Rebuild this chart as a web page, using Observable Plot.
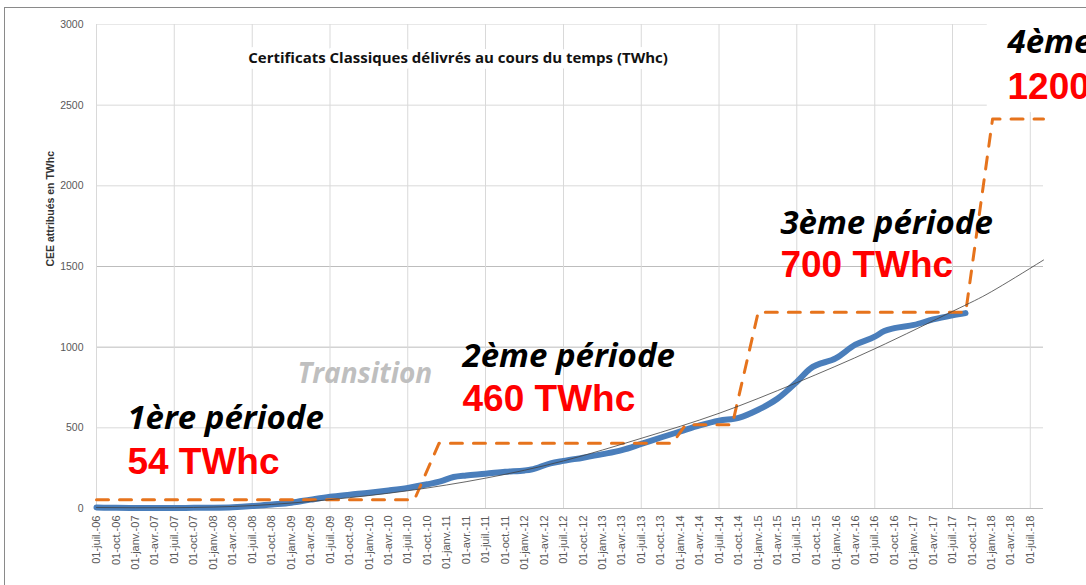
<!DOCTYPE html>
<html><head><meta charset="utf-8">
<script src="https://cdn.jsdelivr.net/npm/d3@7"></script>
<script src="https://cdn.jsdelivr.net/npm/@observablehq/plot@0.6"></script>
<style>
html,body{margin:0;padding:0;background:#fff;overflow:hidden;}
#wrap{position:relative;width:1086px;height:585px;overflow:hidden;}
#wrap svg{position:absolute;left:0;top:0;}
#frame{position:absolute;left:4px;top:7px;width:2000px;height:2000px;border-left:1px solid #8a8a8a;border-top:1px solid #8a8a8a;pointer-events:none;}
</style></head>
<body><div id="wrap"><div id="frame"></div></div>
<script>
// ---- data ----
const deliveredDates = ["2006-07-01","2006-10-01","2007-01-01","2007-04-01","2007-07-01","2007-10-01","2008-01-01","2008-04-01","2008-07-01","2008-10-01","2009-01-01","2009-04-01","2009-07-01","2009-10-01","2010-01-01","2010-04-01","2010-07-01","2010-10-01","2010-12-01","2011-02-01","2011-04-01","2011-07-01","2011-10-01","2012-01-01","2012-02-01","2012-05-01","2012-07-01","2012-10-01","2013-01-01","2013-04-01","2013-07-01","2013-10-01","2014-01-01","2014-04-01","2014-07-01","2014-10-01","2015-01-01","2015-04-01","2015-07-01","2015-09-01","2016-01-01","2016-04-01","2016-07-01","2016-08-15","2016-10-01","2017-01-01","2017-04-01","2017-07-01","2017-08-31"];
const deliveredValues = [6,4,3,3,3,4,5,8,15,25,36,55,73,86,98,112,128,150,168,195,205,215,228,236,242,280,295,315,337,362,400,440,478,515,545,562,612,680,785,866,932,1015,1065,1100,1118,1138,1172,1197,1211];

const objectiveDates = ["2006-07-01","2010-08-01","2010-11-25","2013-11-25","2014-01-25","2014-09-01","2015-01-01","2017-09-01","2018-01-05","2018-09-01"];
const objectiveValues = [54,54,405,405,519,519,1217,1217,2415,2415];

const trendDates = ["2006-07-01","2007-07-01","2008-07-01","2009-07-01","2010-07-01","2011-07-01","2012-07-01","2013-07-01","2014-07-01","2015-07-01","2016-07-01","2017-07-01","2018-01-01","2018-09-01"];
const trendValues = [6,5,18,55,110,188,295,435,590,780,990,1222,1345,1540];

const yTicks = [0,500,1000,1500,2000,2500,3000];
const monthNames = {0:"janv.",3:"avr.",6:"juil.",9:"oct."};

const chartTitle = "Certificats Classiques délivrés au cours du temps (TWhc)";
const yAxisTitle = "CEE attribués en TWhc";
const periodNames = ["1ère période","Transition","2ème période","3ème période","4ème période"];
const periodAmounts = ["54 TWhc","","460 TWhc","700 TWhc","1200 TWhc"];

// annotation anchors (date, value)
const periodLabelDates = ["2006-11-23","2009-01-29","2011-03-15","2015-04-15","2018-03-16"];
const periodLabelValues = [490,775,878,1704,2826];
const amountLabelValues = [211,null,607,1432,2541];

// ---- build ----
const parse = d3.utcParse("%Y-%m-%d");
const delivered = deliveredDates.map((d,i)=>({date:parse(d), value:deliveredValues[i]}));
const objective = objectiveDates.map((d,i)=>({date:parse(d), value:objectiveValues[i]}));
const trend = trendDates.map((d,i)=>({date:parse(d), value:trendValues[i]}));
const periods = periodNames.map((t,i)=>({text:t, date:parse(periodLabelDates[i]), value:periodLabelValues[i], grey:t==="Transition"}));
const amounts = periodAmounts.map((t,i)=>({text:t, date:parse(periodLabelDates[i]), value:amountLabelValues[i]})).filter(d=>d.text);

const xStart = parse("2006-07-01"), xEnd = parse("2018-09-01");
const xTicks = d3.utcMonth.every(3).range(xStart, parse("2018-07-02"));
const yearGrid = xTicks.filter(d=>d.getUTCMonth()===6);
const fmtYY = d3.utcFormat("%y");
const tickFmt = d => `01-${monthNames[d.getUTCMonth()]}-${fmtYY(d)}`;

const chart = Plot.plot({
  width:1086, height:585,
  marginLeft:96, marginRight:43, marginTop:24, marginBottom:77,
  style:{fontFamily:"'Liberation Sans', Arial, sans-serif", background:"transparent", color:"#595959", overflow:"visible"},
  x:{type:"utc", domain:[xStart, xEnd]},
  y:{domain:[0,3000]},
  marks:[
    Plot.ruleY(yTicks.filter(d=>d>0), {stroke:d=> d===3000 ? "#e8e8e8" : (d===1000||d===1500 ? "#bdbdbd" : "#d9d9d9"), strokeWidth:1}),
    Plot.ruleX(yearGrid, {stroke:"#d9d9d9"}),
    Plot.ruleY([0], {stroke:"#bfbfbf"}),
    Plot.axisY({ticks:yTicks, tickFormat:d=>String(d), tickSize:0, tickPadding:13, label:null, fontSize:10.5}),
    Plot.axisX({ticks:xTicks, tickFormat:tickFmt, tickRotate:-90, tickSize:0, tickPadding:7, label:null, fontSize:11}),
    Plot.text([yAxisTitle], {frameAnchor:"left", dx:-46, rotate:-90, fontSize:10.5, fontWeight:"bold", fill:"#333"}),
    Plot.line(delivered, {x:"date", y:"value", stroke:"#4A7EBB", strokeWidth:6, strokeLinecap:"round", strokeLinejoin:"round", curve:"monotone-x"}),
    Plot.line(objective, {x:"date", y:"value", stroke:"#E6731C", strokeWidth:3, strokeDasharray:"12,11", strokeLinejoin:"round"}),
    Plot.line(trend, {x:"date", y:"value", stroke:"#404040", strokeWidth:0.8, curve:"natural"}),
    Plot.text([chartTitle], {x:()=>parse("2011-02-22"), y:()=>2790, text:d=>d, fontSize:15, fontWeight:"bold", fill:"#111", stroke:"white", strokeWidth:12, fontFamily:"'Open Sans', sans-serif"}),
    Plot.rect([periods[4]], {x1:()=>parse("2017-12-11"), x2:()=>parse("2019-08-01"), y1:()=>2454, y2:()=>3030, fill:"white"}),
    Plot.text(periods, {x:"date", y:"value", text:"text", textAnchor:"start", lineAnchor:"bottom", fontFamily:"'Open Sans', sans-serif", fontStyle:"italic", fontWeight:"bold", fontSize:d=>d.grey?28:33, fill:d=>d.grey?"#BFBFBF":"#000"}),
    Plot.text(amounts, {x:"date", y:"value", text:"text", textAnchor:"start", lineAnchor:"bottom", fontFamily:"'Liberation Sans', Arial, sans-serif", fontWeight:"bold", fontSize:37, fill:"#FF0000"})
  ]
});
document.getElementById("wrap").prepend(chart);
</script>
</body></html>
